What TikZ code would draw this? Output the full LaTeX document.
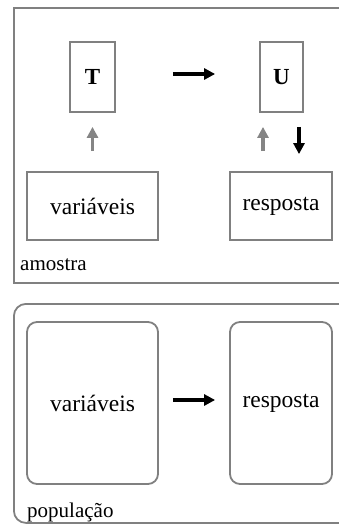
\documentclass[tikz,border=0pt]{standalone}
\usepackage{fontspec}
\setmainfont{Liberation Serif}
\usetikzlibrary{arrows.meta}
\definecolor{framegray}{HTML}{808080}
\definecolor{arrowgray}{HTML}{858585}
\tikzset{
  frame/.style={draw=framegray, line width=1.8pt},
  box/.style={frame, inner sep=0pt, font=\fontsize{23.5}{26}\selectfont},
  varbox/.style={box, minimum width=45pt, minimum height=70pt, font=\fontsize{23}{26}\selectfont\bfseries},
  roundbox/.style={box, rounded corners=10pt},
  corner/.style={inner sep=0pt, anchor=base west, font=\fontsize{21}{24}\selectfont},
  blackarrow/.style={line width=3.3pt, -{Triangle[length=11pt,width=11pt]}},
  grayarrow/.style={line width=3.3pt, draw=arrowgray, -{Triangle[length=11pt,width=11pt]}, arrowgray},
}
\begin{document}
\begin{tikzpicture}[x=1pt, y=-1pt]
  \useasboundingbox (0,0) rectangle (339,524);
  \clip (0,0) rectangle (339,524);

  % sample frame
  \node[frame, inner sep=0pt, minimum width=340pt, minimum height=275pt, anchor=north west]
    (sample) at (13,7) {};
  \node[corner] (samplelabel) at (20,270) {amostra};

  \node[varbox, minimum width=45pt] (T) at (92.5,77) {T};
  \node[varbox, minimum width=43pt] (U) at (281.5,77) {U};
  \node[box, minimum width=131pt, minimum height=68pt] (var1) at (92.5,206) {variáveis};
  \node[box, minimum width=102pt, minimum height=68pt] (resp1) at (281,206) {resposta};

  \draw[blackarrow, shorten <=57pt, shorten >=44pt]
    ([yshift=3pt]T.east) -- ([yshift=3pt]U.west);
  \draw[grayarrow, shorten <=20pt, shorten >=14pt] (var1.north) -- (T.south);
  \draw[grayarrow, shorten <=20pt, shorten >=14pt]
    ([xshift=-18pt]resp1.north) -- ([xshift=-18.5pt]U.south);
  \draw[blackarrow, shorten <=14pt, shorten >=17pt]
    ([xshift=17.5pt]U.south) -- ([xshift=18pt]resp1.north);

  % population frame
  \node[frame, rounded corners=12pt, inner sep=0pt, minimum width=345pt, minimum height=219pt,
    anchor=north west] (population) at (13,303) {};
  \node[corner] (poplabel) at (27,517) {população};

  \node[roundbox, minimum width=131pt, minimum height=162pt] (var2) at (92.5,403) {variáveis};
  \node[roundbox, minimum width=102pt, minimum height=162pt] (resp2) at (281,403) {resposta};

  \draw[blackarrow, shorten <=14pt, shorten >=14pt]
    ([yshift=3pt]var2.east) -- ([yshift=3pt]resp2.west);
\end{tikzpicture}
\end{document}
